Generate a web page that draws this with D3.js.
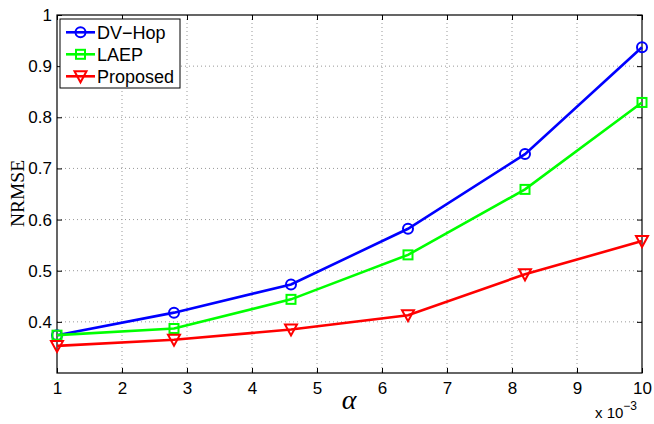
<!DOCTYPE html>
<html><head><meta charset="utf-8">
<script src="https://cdn.jsdelivr.net/npm/d3@7"></script>
<style>body{margin:0;background:#fff}svg{display:block}</style>
</head><body>
<svg id="c" width="654" height="424"></svg>
<script>
const xValues = [1, 2.8, 4.6, 6.4, 8.2, 10];
const dvHop = [0.374, 0.418, 0.473, 0.582, 0.728, 0.937];
const laep = [0.374, 0.387, 0.444, 0.531, 0.659, 0.829];
const proposed = [0.353, 0.365, 0.385, 0.413, 0.493, 0.558];
const seriesNames = ["DV\u2212Hop", "LAEP", "Proposed"];
const xTicks = [1,2,3,4,5,6,7,8,9,10];
const yTicks = [0.4,0.5,0.6,0.7,0.8,0.9,1];

const svg = d3.select("#c");
const m = {l:57, r:642, t:15, b:373};
const x = d3.scaleLinear().domain([1,10]).range([m.l,m.r]);
const y = d3.scaleLinear().domain([0.3,1]).range([m.b,m.t]);
const font = "Liberation Sans, Arial, Helvetica, sans-serif";

// grid
const g = svg.append("g");
xTicks.slice(1,-1).forEach(t=>g.append("line").attr("x1",x(t)).attr("x2",x(t)).attr("y1",m.t).attr("y2",m.b)
  .attr("stroke","#999").attr("stroke-width",1).attr("stroke-dasharray","1,3"));
yTicks.slice(0,-1).forEach(t=>g.append("line").attr("x1",m.l).attr("x2",m.r).attr("y1",y(t)).attr("y2",y(t))
  .attr("stroke","#999").attr("stroke-width",1).attr("stroke-dasharray","1,3"));

// axes
const xa = svg.append("g").attr("transform",`translate(0,${m.b})`)
  .call(d3.axisBottom(x).tickValues(xTicks).tickFormat(d3.format("d")).tickSizeInner(-5).tickSizeOuter(0).tickPadding(9));
const xt = svg.append("g").attr("transform",`translate(0,${m.t})`)
  .call(d3.axisTop(x).tickValues(xTicks).tickFormat("").tickSizeInner(-5).tickSizeOuter(0));
const ya = svg.append("g").attr("transform",`translate(${m.l},0)`)
  .call(d3.axisLeft(y).tickValues(yTicks).tickFormat(d=>d===1?"1":d3.format(".1f")(d)).tickSizeInner(-5).tickSizeOuter(0).tickPadding(5));
const yr = svg.append("g").attr("transform",`translate(${m.r},0)`)
  .call(d3.axisRight(y).tickValues(yTicks).tickFormat("").tickSizeInner(-5).tickSizeOuter(0));
[xa,xt,ya,yr].forEach(a=>{
  a.select(".domain").remove();
  a.selectAll("line").attr("stroke","#000");
  a.selectAll("text").attr("font-family",font).attr("font-size",17).attr("fill","#000");
});
svg.append("rect").attr("x",m.l).attr("y",m.t).attr("width",m.r-m.l).attr("height",m.b-m.t)
  .attr("fill","none").attr("stroke","#000").attr("stroke-width",1.2);

// series
const series = [
  {name:seriesNames[0], vals:dvHop, color:"#0000ff", marker:"circle"},
  {name:seriesNames[1], vals:laep, color:"#00ff00", marker:"square"},
  {name:seriesNames[2], vals:proposed, color:"#ff0000", marker:"tri"}
];
const line = d3.line().x(d=>x(d[0])).y(d=>y(d[1]));
function marker(sel, type, cx, cy, color){
  if(type==="circle") sel.append("circle").attr("cx",cx).attr("cy",cy).attr("r",5).attr("fill","none").attr("stroke",color).attr("stroke-width",2);
  else if(type==="square") sel.append("rect").attr("x",cx-4.5).attr("y",cy-4.5).attr("width",9).attr("height",9).attr("fill","none").attr("stroke",color).attr("stroke-width",2);
  else sel.append("path").attr("d",`M${cx-6},${cy-5}L${cx+6},${cy-5}L${cx},${cy+6}Z`).attr("fill","none").attr("stroke",color).attr("stroke-width",2);
}
series.forEach(s=>{
  const pts = xValues.map((xv,i)=>[xv,s.vals[i]]);
  svg.append("path").attr("d",line(pts)).attr("fill","none").attr("stroke",s.color).attr("stroke-width",2.6);
  const mg = svg.append("g");
  pts.forEach(p=>marker(mg,s.marker,x(p[0]),y(p[1]),s.color));
});

// legend
const lg = svg.append("g");
lg.append("rect").attr("x",60).attr("y",19).attr("width",120).attr("height",69).attr("fill","#fff").attr("stroke","#000").attr("stroke-width",1);
series.forEach((s,i)=>{
  const cy = 32.3 + i*22;
  lg.append("line").attr("x1",66).attr("x2",95).attr("y1",cy).attr("y2",cy).attr("stroke",s.color).attr("stroke-width",2.6);
  marker(lg,s.marker,80.5,cy,s.color);
  lg.append("text").attr("x",97).attr("y",cy+6.5).attr("font-family",font).attr("font-size",18).text(s.name);
});

// labels
svg.append("text").attr("x",349).attr("y",409).attr("font-family","Liberation Serif, Times New Roman, serif")
  .attr("font-style","italic").attr("font-size",28).attr("text-anchor","middle").text("\u03B1");
svg.append("text").attr("transform","translate(24,193.5) rotate(-90)").attr("font-family","Liberation Serif, Times New Roman, serif")
  .attr("font-size",19.5).attr("text-anchor","middle").text("NRMSE");
const ex = svg.append("text").attr("x",595).attr("y",418).attr("font-family",font).attr("font-size",15);
ex.append("tspan").text("x 10");
ex.append("tspan").attr("dy",-8).attr("font-size",12).text("\u22123");
</script>
</body></html>
